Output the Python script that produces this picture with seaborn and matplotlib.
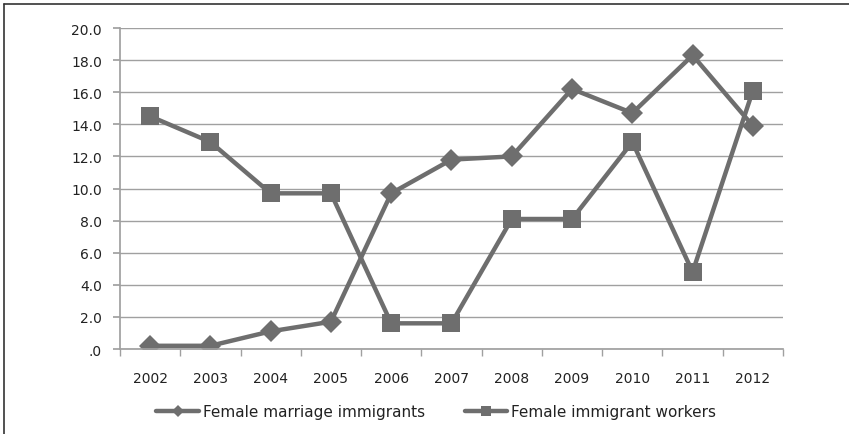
import numpy as np
import pandas as pd
import matplotlib
matplotlib.use("Agg")
import matplotlib.pyplot as plt
from matplotlib.lines import Line2D
import seaborn as sns

years = ["2002", "2003", "2004", "2005", "2006", "2007", "2008", "2009", "2010", "2011", "2012"]
marriage = [0.2, 0.2, 1.1, 1.7, 9.7, 11.8, 12.0, 16.2, 14.7, 18.3, 13.9]
workers = [14.5, 12.9, 9.7, 9.7, 1.6, 1.6, 8.1, 8.1, 12.9, 4.8, 16.1]
series_names = ["Female marriage immigrants", "Female immigrant workers"]
y_ticks = [0, 2, 4, 6, 8, 10, 12, 14, 16, 18, 20]

df = pd.DataFrame({
    "year": years * 2,
    "value": marriage + workers,
    "series": [series_names[0]] * len(years) + [series_names[1]] * len(years),
})

sns.set_theme(style="white")
plt.rcParams["font.family"] = ["DejaVu Sans"]

line_col = "#6e6e6e"
grid_col = "#a0a0a0"
text_col = "#222222"

fig = plt.figure(figsize=(8.49, 4.35), dpi=100)
ax = fig.add_axes([0.1413, 0.1954, 0.781, 0.7379])

sns.lineplot(
    data=df, x="year", y="value", hue="series", style="series",
    palette=[line_col, line_col], markers=["D", "s"], dashes=False,
    linewidth=3.2, markersize=11, markeredgewidth=0, ax=ax, sort=False,
)
# squares a bit larger than diamonds
for ln in ax.get_lines():
    if ln.get_marker() == "s":
        ln.set_markersize(12.5)

ax.set_xlim(-0.5, len(years) - 0.5)
ax.set_ylim(0, 20)
ax.set_yticks(y_ticks)
ax.set_yticklabels([f"{v:.1f}" if v else ".0" for v in y_ticks])
ax.yaxis.grid(True, color=grid_col, linewidth=1)
ax.set_axisbelow(True)
ax.set_xlabel("")
ax.set_ylabel("")

for s in ["top", "right"]:
    ax.spines[s].set_visible(False)
ax.spines["left"].set_color(grid_col)
ax.spines["bottom"].set_color(grid_col)

ax.set_xticks(np.arange(-0.5, len(years)), minor=True)
ax.tick_params(axis="x", which="minor", length=5, color=grid_col, bottom=True)
ax.tick_params(axis="x", which="major", length=0, pad=16, labelsize=10, labelcolor=text_col)
ax.tick_params(axis="y", length=5, color=grid_col, left=True, pad=8, labelsize=10, labelcolor=text_col)

handles, labels = ax.get_legend_handles_labels()
ax.legend(
    handles, labels, loc="upper center", bbox_to_anchor=(0.477, -0.13),
    ncol=2, frameon=False, fontsize=11, markerscale=0.55, handlelength=2.8,
    handletextpad=0.25, columnspacing=2.6, labelcolor=text_col,
)

# outer frame lines (top and left)
fig.add_artist(Line2D([0.005, 1.0], [0.988, 0.988], transform=fig.transFigure, color="#333333", linewidth=1.2))
fig.add_artist(Line2D([0.005, 0.005], [0.0, 0.988], transform=fig.transFigure, color="#333333", linewidth=1.2))

fig.savefig("out.png", dpi=100)
